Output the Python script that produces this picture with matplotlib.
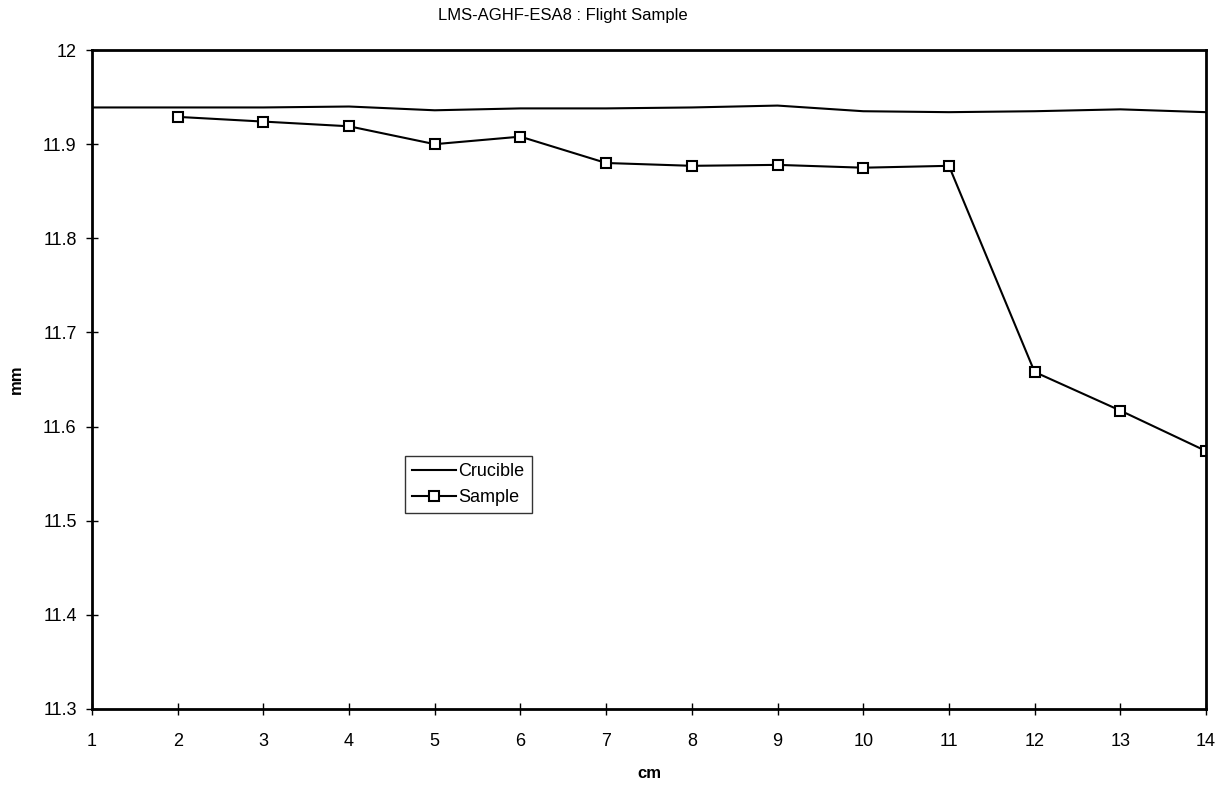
import matplotlib
matplotlib.use("Agg")
import matplotlib.pyplot as plt

plt.rcParams['font.family'] = ['Liberation Sans', 'DejaVu Sans']

# positions along the sample (cm)
cm_crucible = [1, 2, 3, 4, 5, 6, 7, 8, 9, 10, 11, 12, 13, 14]
cm_sample = [2, 3, 4, 5, 6, 7, 8, 9, 10, 11, 12, 13, 14]

# diameters (mm)
crucible_mm = [11.939, 11.939, 11.939, 11.940, 11.936, 11.938, 11.938,
               11.939, 11.941, 11.935, 11.934, 11.935, 11.937, 11.934]
sample_mm = [11.929, 11.924, 11.919, 11.900, 11.908, 11.880, 11.877,
             11.878, 11.875, 11.877, 11.658, 11.617, 11.574]

x_ticks = list(range(1, 15))
y_ticks = [11.3, 11.4, 11.5, 11.6, 11.7, 11.8, 11.9, 12.0]
y_tick_labels = ['11.3', '11.4', '11.5', '11.6', '11.7', '11.8', '11.9', '12']

fig = plt.figure(figsize=(12.31, 7.88), dpi=100)
ax = fig.add_axes([0.0747, 0.1003, 0.905, 0.8362])

ax.plot(cm_crucible, crucible_mm, color='black', linewidth=1.5, label='Crucible')
ax.plot(cm_sample, sample_mm, color='black', linewidth=1.5, marker='s',
        markersize=7, markerfacecolor='white', markeredgecolor='black',
        markeredgewidth=1.5, label='Sample')

ax.set_xlim(1, 14)
ax.set_ylim(11.3, 12.0)
ax.set_xticks(x_ticks)
ax.set_yticks(y_ticks)
ax.set_yticklabels(y_tick_labels)
ax.tick_params(direction='inout', length=8, width=1, labelsize=13)
ax.tick_params(axis='x', pad=13)
ax.tick_params(axis='y', pad=7)

for side in ['left', 'right', 'top', 'bottom']:
    ax.spines[side].set_linewidth(2)

ax.set_xlabel('cm', fontsize=12, fontweight='bold', labelpad=12)
ax.set_ylabel('mm', fontsize=12, fontweight='bold', labelpad=14)

fig.text(0.457, 0.980, 'LMS-AGHF-ESA8 : Flight Sample', fontsize=12,
         ha='center', va='center')

leg = ax.legend(loc='upper left', bbox_to_anchor=(0.281, 0.384), fontsize=13,
                frameon=True, fancybox=False, handlelength=2.4,
                handletextpad=0.15, borderpad=0.4, labelspacing=0.5,
                borderaxespad=0)
leg.get_frame().set_edgecolor('black')
leg.get_frame().set_linewidth(1)

fig.savefig('out.png', dpi=100)
plt.close()
